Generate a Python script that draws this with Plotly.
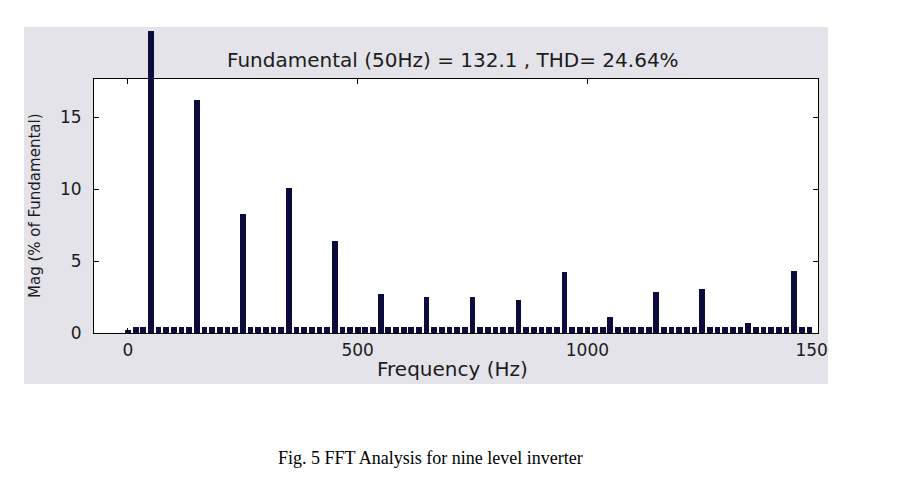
import plotly.graph_objects as go

# ---------------- data ----------------
bin_hz = 50 / 3  # FFT bin spacing seen between bars
mag_pct = [
    0.20, 0.45, 0.45, 100.0, 0.45, 0.45,   # 0 .. 83 Hz (50 Hz fundamental)
    0.45, 0.45, 0.45, 16.20, 0.45, 0.45,   # 150 Hz
    0.45, 0.45, 0.45, 8.24, 0.45, 0.45,    # 250 Hz
    0.45, 0.45, 0.45, 10.05, 0.45, 0.45,   # 350 Hz
    0.45, 0.45, 0.45, 6.40, 0.45, 0.45,    # 450 Hz
    0.45, 0.45, 0.45, 2.69, 0.45, 0.45,    # 550 Hz
    0.45, 0.45, 0.45, 2.52, 0.45, 0.45,    # 650 Hz
    0.45, 0.45, 0.45, 2.52, 0.45, 0.45,    # 750 Hz
    0.45, 0.45, 0.45, 2.27, 0.45, 0.45,    # 850 Hz
    0.45, 0.45, 0.45, 4.26, 0.45, 0.45,    # 950 Hz
    0.45, 0.45, 0.45, 1.13, 0.45, 0.45,    # 1050 Hz
    0.45, 0.45, 0.45, 2.87, 0.45, 0.45,    # 1150 Hz
    0.45, 0.45, 0.45, 3.03, 0.45, 0.45,    # 1250 Hz
    0.45, 0.45, 0.45, 0.72, 0.45, 0.45,    # 1350 Hz
    0.45, 0.45, 0.45, 4.33, 0.45, 0.45,    # 1450 Hz
]
freq_hz = [k * bin_hz for k in range(len(mag_pct))]

x_tickvals = [0, 500, 1000, 1500]
x_ticktext = ["0", "500", "1000", "1500"]
y_tickvals = [0, 5, 10, 15]
y_ticktext = ["0", "5", "10", "15"]

title_text = "Fundamental (50Hz) = 132.1 , THD= 24.64%"
x_label = "Frequency (Hz)"
y_label = "Mag (% of Fundamental)"
caption = "Fig. 5 FFT Analysis for nine level inverter"

# ---------------- layout helpers ----------------
W, H = 922, 497


def px(x):
    return x / W


def py(y):
    return (H - y) / H


BAR = "#0c0c3c"
GRAY = "#e3e3e9"
TXT = "#1c1c1c"
SANS = "DejaVu Sans"

fig = go.Figure()
bar_style = dict(
    x=freq_hz,
    y=mag_pct,
    width=12.5,
    marker=dict(color=BAR, line=dict(width=0)),
    hoverinfo="skip",
    showlegend=False,
)
fig.add_trace(go.Bar(**bar_style, xaxis="x", yaxis="y"))
fig.add_trace(go.Bar(**bar_style, xaxis="x2", yaxis="y2"))

axis_common = dict(
    showline=True,
    linecolor="black",
    linewidth=1,
    mirror="ticks",
    ticks="inside",
    ticklen=5,
    tickcolor="black",
    showgrid=False,
    zeroline=False,
    automargin=False,
    tickfont=dict(family=SANS, size=17, color=TXT),
)

fig.update_layout(
    width=W,
    height=H,
    margin=dict(l=0, r=0, t=0, b=0, pad=0),
    paper_bgcolor="white",
    plot_bgcolor="rgba(0,0,0,0)",
    bargap=0,
    xaxis=dict(
        **axis_common,
        domain=[px(94), px(818)],
        range=[-74, 1502],
        anchor="y",
        tickvals=x_tickvals,
        ticktext=x_ticktext,
        ticklabelstandoff=2,
    ),
    yaxis=dict(
        **axis_common,
        domain=[py(333), py(79)],
        range=[0, 17.64],
        anchor="x",
        tickvals=y_tickvals,
        ticktext=y_ticktext,
        ticklabelstandoff=8,
    ),
    xaxis2=dict(domain=[px(94), px(818)], matches="x", anchor="y2",
                visible=False, automargin=False),
    yaxis2=dict(domain=[py(79), py(31)], range=[17.64, 20.97], anchor="x2",
                visible=False, automargin=False),
    shapes=[
        dict(type="rect", xref="paper", yref="paper",
             x0=px(24), x1=px(828), y0=py(384), y1=py(27),
             fillcolor=GRAY, line=dict(width=0), layer="below"),
        dict(type="rect", xref="x domain", yref="y domain",
             x0=0, x1=1, y0=0, y1=1,
             fillcolor="white", line=dict(width=0), layer="below"),
        dict(type="rect", xref="paper", yref="paper",
             x0=px(829), x1=1, y0=py(384), y1=py(330),
             fillcolor="white", line=dict(width=0), layer="above"),
    ],
    annotations=[
        dict(text=title_text, xref="paper", yref="paper", x=px(453), y=py(60),
             xanchor="center", yanchor="middle", showarrow=False,
             font=dict(family=SANS, size=20, color=TXT)),
        dict(text=x_label, xref="paper", yref="paper", x=px(452), y=py(369),
             xanchor="center", yanchor="middle", showarrow=False,
             font=dict(family=SANS, size=20, color=TXT)),
        dict(text=y_label, xref="paper", yref="paper", x=px(35), y=py(206),
             xanchor="center", yanchor="middle", showarrow=False, textangle=-90,
             font=dict(family=SANS, size=15, color=TXT)),
        dict(text=caption, xref="paper", yref="paper", x=px(430), y=py(458),
             xanchor="center", yanchor="middle", showarrow=False,
             font=dict(family="Liberation Serif", size=18, color="black")),
    ],
)

fig.write_html(
    "out.html",
    config={"displayModeBar": False},
    post_script="document.body.style.margin='0';",
)
